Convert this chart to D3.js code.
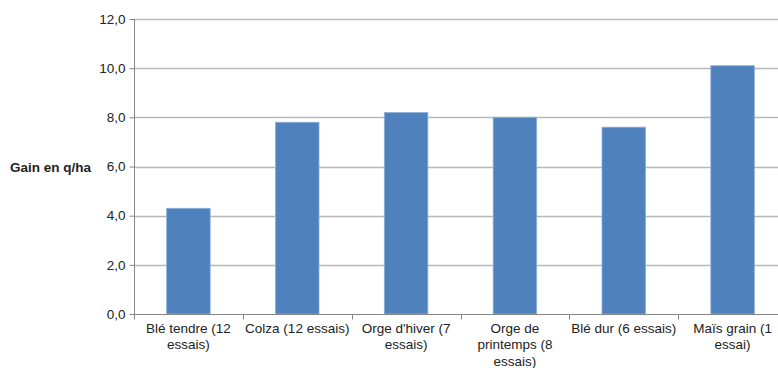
<!DOCTYPE html>
<meta charset="utf-8">
<script src="https://d3js.org/d3.v7.min.js"></script>
<style>
  body{margin:0;background:#fff;}
  text{font-family:"Liberation Sans",Arial,sans-serif;fill:#222;}
</style>
<div id="chart"></div>
<script>
    const categories=["Blé tendre (12 essais)","Colza (12 essais)","Orge d'hiver (7 essais)","Orge de printemps (8 essais)","Blé dur (6 essais)","Maïs grain (1 essai)"];
    const labelLines=[["Blé tendre (12","essais)"],["Colza (12 essais)"],["Orge d'hiver (7","essais)"],["Orge de","printemps (8","essais)"],["Blé dur (6 essais)"],["Maïs grain (1","essai)"]];
    const gains=[4.3,7.8,8.2,8.0,7.6,10.1];
    const yTicks=[0,2,4,6,8,10,12];

    const W=778,H=368;
    const margin={top:19,left:134,bottom:54};
    const plotW=653,plotH=H-margin.top-margin.bottom;

    const svg=d3.select("#chart").append("svg")
        .attr("width",W).attr("height",H);
    const g=svg.append("g").attr("transform",`translate(${margin.left},${margin.top})`);

    const x=d3.scaleBand().domain(categories).range([0,plotW]).paddingInner(0.6).paddingOuter(0.3);
    const y=d3.scaleLinear().domain([0,12]).range([plotH,0]);
    const fmt=d=>d.toFixed(1).replace(".",",");

    // gridlines
    g.selectAll("line.grid").data(yTicks.filter(d=>d>0)).join("line")
        .attr("class","grid")
        .attr("x1",0).attr("x2",plotW)
        .attr("y1",d=>Math.round(y(d))+0.5).attr("y2",d=>Math.round(y(d))+0.5)
        .attr("stroke","#b8b8b8").attr("stroke-width",1.3);

    // bars
    g.selectAll("rect").data(gains).join("rect")
        .attr("x",(d,i)=>x(categories[i]))
        .attr("y",d=>y(d))
        .attr("width",x.bandwidth())
        .attr("height",d=>plotH-y(d))
        .attr("fill","#4f81bd")
        .attr("stroke","#8db0dc").attr("stroke-width",0.8);

    // y axis
    const yAxis=g.append("g").attr("transform","translate(0.5,0)")
        .call(d3.axisLeft(y).tickValues(yTicks).tickFormat(fmt).tickSize(5).tickPadding(4));
    yAxis.select(".domain").attr("stroke","#868686").attr("d",`M0,${y(12)}V${plotH}`);
    yAxis.selectAll(".tick line").attr("stroke","#868686");
    yAxis.selectAll(".tick text").attr("font-size",13.5).attr("fill","#222");

    // x axis
    const xAxis=g.append("g").attr("transform",`translate(0,${Math.round(plotH)+0.5})`);
    xAxis.append("line").attr("x1",0).attr("x2",plotW).attr("stroke","#868686");
    const step=x.step();
    xAxis.selectAll("line.tk").data(d3.range(categories.length+1)).join("line")
        .attr("class","tk")
        .attr("x1",i=>Math.round(i*step)+0.5).attr("x2",i=>Math.round(i*step)+0.5)
        .attr("y1",0).attr("y2",5).attr("stroke","#868686");

    const labels=xAxis.selectAll("text.cat").data(categories).join("text")
        .attr("class","cat")
        .attr("text-anchor","middle")
        .attr("font-size",13.5)
        .attr("transform",d=>`translate(${x(d)+x.bandwidth()/2},0)`);
    labels.selectAll("tspan").data((d,i)=>labelLines[i]).join("tspan")
        .attr("x",0)
        .attr("y",(d,j)=>18+j*16.5)
        .text(d=>d);

    // y title
    svg.append("text")
        .attr("x",10).attr("y",172)
        .attr("font-size",13.5).attr("font-weight","bold")
        .text("Gain en q/ha");
</script>
